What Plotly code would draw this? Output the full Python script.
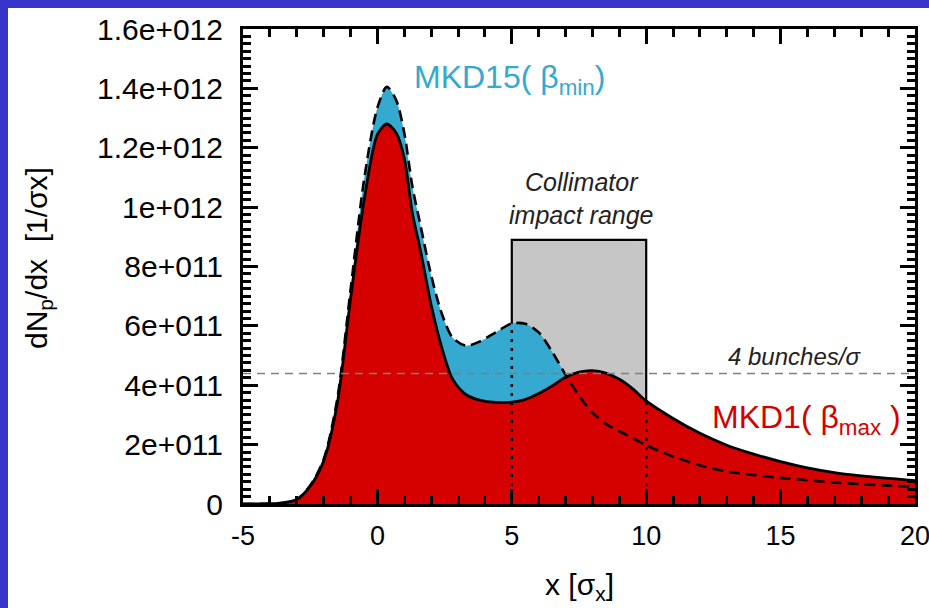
import numpy as np
import plotly.graph_objects as go

# ---- data ----
x_sigma = [-5, -4, -3.5, -3, -2.5, -2, -1.5, -1, -0.5, 0, 0.35, 0.7, 1.0, 1.3, 1.6, 2.0, 2.4, 2.8,
           3.3, 3.8, 4.4, 5.0, 5.5, 6.0, 6.5, 7.0, 7.5, 8.0, 8.5, 9.0, 9.5, 10, 11, 12, 13, 14, 15,
           16, 17, 18, 19, 20]
mkd1_beta_max = [0.0, 0.01, 0.04, 0.15, 0.6, 1.45, 3.35, 6.9, 10.2, 12.45, 12.8, 12.5, 11.65, 9.8,
                 8.55, 6.7, 5.25, 4.2, 3.68, 3.5, 3.42, 3.43, 3.52, 3.72, 3.98, 4.27, 4.44, 4.49,
                 4.41, 4.2, 3.88, 3.47, 2.88, 2.38, 1.98, 1.68, 1.43, 1.22, 1.06, 0.95, 0.86, 0.79]
mkd15_beta_min = [0.0, 0.01, 0.04, 0.15, 0.62, 1.5, 3.5, 7.2, 10.9, 13.35, 14.05, 13.6, 12.5, 10.7,
                  9.4, 7.7, 6.4, 5.6, 5.33, 5.47, 5.78, 6.08, 6.07, 5.78, 5.13, 4.35, 3.65, 3.08,
                  2.7, 2.45, 2.22, 1.98, 1.6, 1.3, 1.1, 0.98, 0.88, 0.8, 0.72, 0.67, 0.62, 0.58]
scale = 1e11

collimator_range = [5, 10]
collimator_top = 8.9e11
bunch_level = 4.4e11

x_tickvals = [-5, 0, 5, 10, 15, 20]
x_ticktext = ["-5", "0", "5", "10", "15", "20"]
y_tickvals = [0, 2e11, 4e11, 6e11, 8e11, 1e12, 1.2e12, 1.4e12, 1.6e12]
y_ticktext = ["0", "2e+011", "4e+011", "6e+011", "8e+011", "1e+012", "1.2e+012", "1.4e+012", "1.6e+012"]

# ---- styles ----
BLUE = "#35A9CF"
RED = "#D50000"
BORDER = "#3633C8"
FONT = "Liberation Sans, Arial, Helvetica, sans-serif"

y1 = np.array(mkd1_beta_max) * scale
y15 = np.array(mkd15_beta_min) * scale
xs = np.array(x_sigma, dtype=float)

fig = go.Figure()

# fills
fig.add_trace(go.Scatter(x=xs, y=y15, mode="lines", line=dict(width=0, shape="spline", smoothing=0.8),
                         fill="tozeroy", fillcolor=BLUE, hoverinfo="skip", showlegend=False))
fig.add_trace(go.Scatter(x=xs, y=y1, mode="lines", line=dict(width=0, shape="spline", smoothing=0.8),
                         fill="tozeroy", fillcolor=RED, hoverinfo="skip", showlegend=False))

# dotted verticals at collimator edges
x_lo, x_hi = collimator_range
top_lo = float(np.interp(x_lo, xs, y15))
top_hi = float(np.interp(x_hi, xs, y1))
fig.add_trace(go.Scatter(x=[x_lo, x_lo], y=[0, top_lo], mode="lines",
                         line=dict(color="black", width=2.5, dash="3px,6px"), showlegend=False))
fig.add_trace(go.Scatter(x=[x_hi, x_hi], y=[0, top_hi], mode="lines",
                         line=dict(color="black", width=2.5, dash="3px,6px"), showlegend=False))

# curve lines
fig.add_trace(go.Scatter(x=xs, y=y15, mode="lines",
                         line=dict(color="black", width=2.6, dash="11px,6px", shape="spline", smoothing=0.8),
                         showlegend=False))
fig.add_trace(go.Scatter(x=xs, y=y1, mode="lines",
                         line=dict(color="black", width=2.8, shape="spline", smoothing=0.8),
                         showlegend=False))

# white page with blue border (left/top)
fig.add_shape(type="rect", xref="paper", yref="paper", x0=-0.3497, x1=1.2, y0=-0.4, y1=1.0442,
              fillcolor="white", line=dict(width=0), layer="below")
# collimator box
fig.add_shape(type="rect", xref="x", yref="y", x0=x_lo, x1=x_hi, y0=0, y1=collimator_top,
              fillcolor="#C6C6C6", line=dict(color="black", width=2.2), layer="below")
# 4 bunches line
fig.add_shape(type="line", xref="x", yref="y", x0=-5, x1=20, y0=bunch_level, y1=bunch_level,
              line=dict(color="#7f7f7f", width=1.5, dash="8px,6px"), layer="above")

# annotations
fig.add_annotation(x=1.28, y=1.43e12, xref="x", yref="y", xanchor="left", yanchor="middle",
                   text="MKD15( β<sub>min</sub>)", showarrow=False,
                   font=dict(family=FONT, size=32, color=BLUE))
fig.add_annotation(x=12.36, y=2.83e11, xref="x", yref="y", xanchor="left", yanchor="middle",
                   text="MKD1( β<sub>max</sub> )", showarrow=False,
                   font=dict(family=FONT, size=32, color=RED))
fig.add_annotation(x=12.96, y=4.98e11, xref="x", yref="y", xanchor="left", yanchor="middle",
                   text="<i>4 bunches/σ</i>", showarrow=False,
                   font=dict(family=FONT, size=24, color="#222222"))
fig.add_annotation(x=7.6, y=1.03e12, xref="x", yref="y", xanchor="center", yanchor="middle",
                   text="<i>Collimator</i><br><i>impact range</i>", showarrow=False,
                   font=dict(family=FONT, size=25, color="#222222"))
# axis titles
fig.add_annotation(x=(38 - 243) / 672, y=(504 - 258) / 475, xref="paper", yref="paper",
                   xanchor="center", yanchor="middle", textangle=-90,
                   text="dN<sub>p</sub>/dx  [1/σx]", showarrow=False,
                   font=dict(family=FONT, size=30, color="black"))
fig.add_annotation(x=0.5, y=(504 - 586) / 475, xref="paper", yref="paper",
                   xanchor="center", yanchor="middle",
                   text="x [σ<sub>x</sub>]", showarrow=False,
                   font=dict(family=FONT, size=30, color="black"))

fig.update_layout(
    width=929, height=608,
    margin=dict(l=243, r=14, t=29, b=104, autoexpand=False),
    paper_bgcolor=BORDER, plot_bgcolor="white",
    showlegend=False,
    font=dict(family=FONT, color="black"),
)
fig.update_xaxes(range=[-5, 20], tickvals=x_tickvals, ticktext=x_ticktext, automargin=False,
                 ticks="inside", ticklen=15, tickwidth=3, tickcolor="black",
                 showline=True, linewidth=3, linecolor="black", mirror="ticks",
                 showgrid=False, zeroline=False, ticklabelstandoff=6, ticklabeloverflow="allow",
                 layer="above traces",
                 tickfont=dict(family=FONT, size=27, color="black"),
                 minor=dict(dtick=1, tick0=-5, ticks="inside", ticklen=8, tickwidth=2.5, tickcolor="black",
                            showgrid=False))
fig.update_yaxes(range=[0, 1.6e12], tickvals=y_tickvals, ticktext=y_ticktext, automargin=False,
                 ticks="inside", ticklen=15, tickwidth=3, tickcolor="black",
                 showline=True, linewidth=3, linecolor="black", mirror="ticks",
                 showgrid=False, zeroline=False, ticklabelstandoff=11, ticklabeloverflow="allow",
                 layer="above traces",
                 tickfont=dict(family=FONT, size=30, color="black"),
                 minor=dict(dtick=2.5e10, tick0=0, ticks="inside", ticklen=8, tickwidth=2.5, tickcolor="black",
                            showgrid=False))

fig.write_html("out.html")
